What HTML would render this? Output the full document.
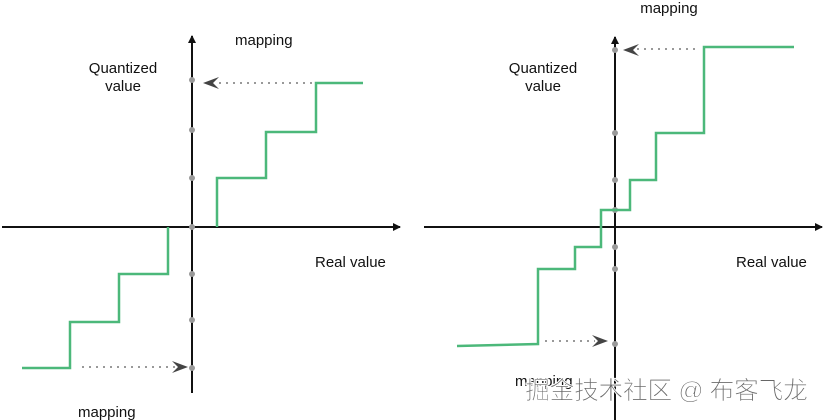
<!DOCTYPE html>
<html><head><meta charset="utf-8"><style>
html,body{margin:0;padding:0;background:#fff;width:825px;height:420px;overflow:hidden}
svg{display:block}
text{font-family:"Liberation Sans",sans-serif;font-size:15px;fill:#111}
</style></head><body>
<svg width="825" height="420" viewBox="0 0 825 420">
<defs>
<marker id="ah" markerWidth="8" markerHeight="8" refX="7" refY="4" orient="auto" markerUnits="userSpaceOnUse"><path d="M0,0 L8,4 L0,8 Z" fill="#111"/></marker>
</defs>
<line x1="2" y1="227" x2="400" y2="227" stroke="#111" stroke-width="2" marker-end="url(#ah)"/>
<line x1="192" y1="393" x2="192" y2="36" stroke="#111" stroke-width="2" marker-end="url(#ah)"/>
<g fill="#999"><circle cx="192" cy="80" r="3"/><circle cx="192" cy="130" r="3"/><circle cx="192" cy="178" r="3"/><circle cx="192" cy="227" r="3"/><circle cx="192" cy="274" r="3"/><circle cx="192" cy="320" r="3"/><circle cx="192" cy="368" r="3"/></g>
<polyline points="217,227 217,178 266,178 266,132 316,132 316,83 363,83" fill="none" stroke="#4cb87a" stroke-width="2.5"/>
<polyline points="168,227 168,274 119,274 119,322 70,322 70,368 22,368" fill="none" stroke="#4cb87a" stroke-width="2.5"/>
<line x1="312" y1="83" x2="215" y2="83" stroke="#999" stroke-width="2" stroke-dasharray="2,5"/>
<path d="M203,83 L219,77 L213,83 L219,89 Z" fill="#444"/>
<line x1="82" y1="367" x2="175" y2="367" stroke="#999" stroke-width="2" stroke-dasharray="2,5"/>
<path d="M188,367 L172,361 L178,367 L172,373 Z" fill="#444"/>
<text x="235" y="45">mapping</text>
<text x="123" y="73" text-anchor="middle">Quantized</text>
<text x="123" y="91" text-anchor="middle">value</text>
<text x="315" y="267">Real value</text>
<text x="78" y="417">mapping</text>
<line x1="424" y1="227" x2="822" y2="227" stroke="#111" stroke-width="2" marker-end="url(#ah)"/>
<line x1="615" y1="420" x2="615" y2="37" stroke="#111" stroke-width="2" marker-end="url(#ah)"/>
<g fill="#999"><circle cx="615" cy="50" r="3"/><circle cx="615" cy="133" r="3"/><circle cx="615" cy="180" r="3"/><circle cx="615" cy="210" r="3"/><circle cx="615" cy="247" r="3"/><circle cx="615" cy="269" r="3"/><circle cx="615" cy="344" r="3"/></g>
<polyline points="457,346 538,344 538,269 575,269 575,247 601,247 601,210 630,210 630,180 656,180 656,133 704,133 704,47 794,47" fill="none" stroke="#4cb87a" stroke-width="2.5"/>
<line x1="695" y1="49" x2="635" y2="49" stroke="#999" stroke-width="2" stroke-dasharray="2,5"/>
<path d="M623,50 L639,44 L633,50 L639,56 Z" fill="#444"/>
<line x1="545" y1="341" x2="595" y2="341" stroke="#999" stroke-width="2" stroke-dasharray="2,5"/>
<path d="M608,341 L592,335 L598,341 L592,347 Z" fill="#444"/>
<text x="669" y="13" text-anchor="middle">mapping</text>
<text x="543" y="73" text-anchor="middle">Quantized</text>
<text x="543" y="91" text-anchor="middle">value</text>
<text x="736" y="267">Real value</text>
<text x="515" y="386">mapping</text>
<text x="525" y="399" textLength="283" style="font-family:'Liberation Sans','Noto Sans CJK SC',sans-serif;font-size:25px;fill:#666;stroke:#fff;stroke-width:1">掘金技术社区 @ 布客飞龙</text>
</svg>
</body></html>
